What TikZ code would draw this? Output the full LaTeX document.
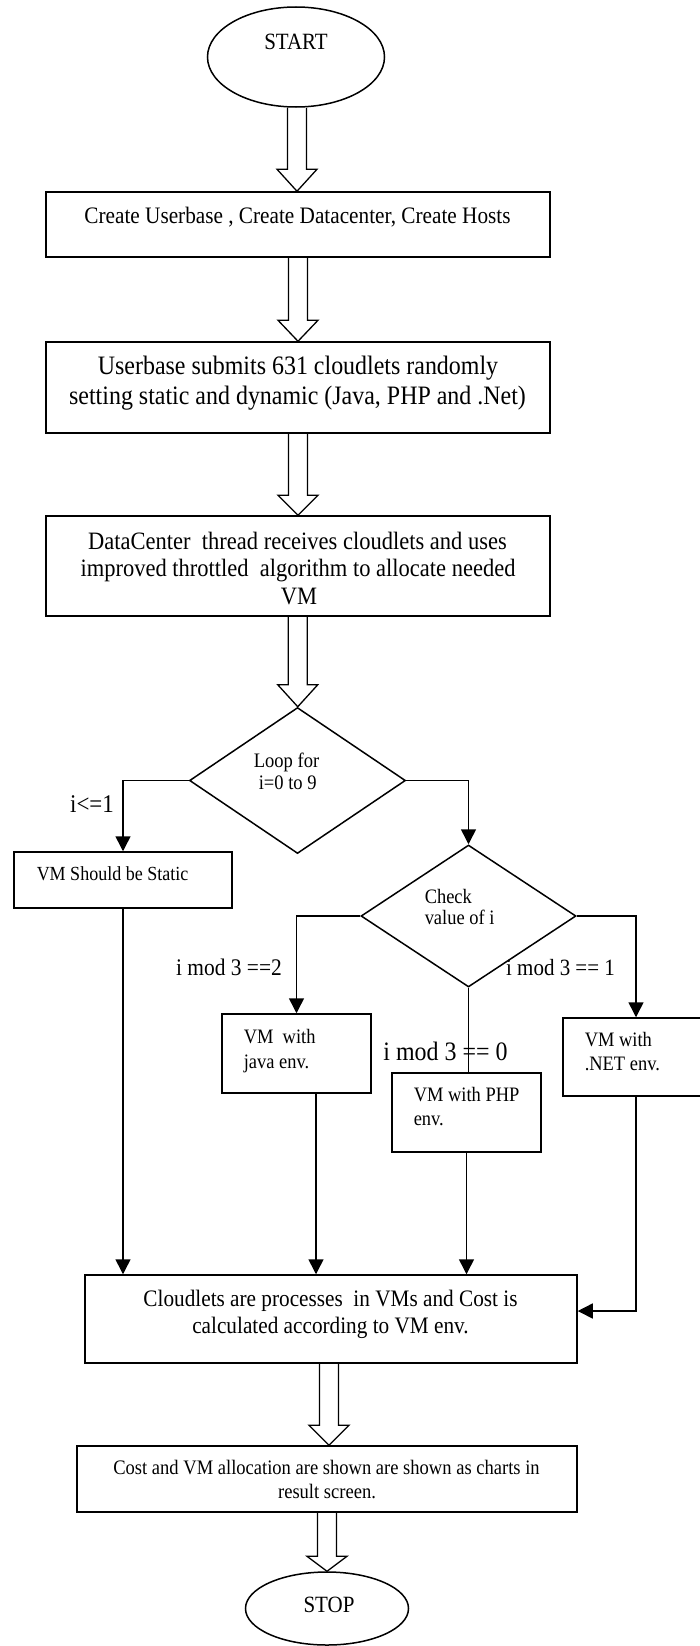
\documentclass[tikz,border=0pt]{standalone}
\usepackage{fontspec}
\setmainfont{Liberation Serif}[FakeStretch=0.9]
\usetikzlibrary{shapes.geometric,arrows.meta,calc}
\begin{document}
\begin{tikzpicture}[x=1pt,y=-1pt,line width=1.5pt,
  box/.style={draw,rectangle,inner sep=0pt,line width=1.5pt},
  oval/.style={draw,ellipse,inner sep=0pt,line width=1.5pt},
  dia/.style={draw,diamond,inner sep=0pt,line width=1.5pt},
  conn/.style={line width=1.5pt,-{Triangle[length=15pt,width=15pt]}},
  plain/.style={line width=1.5pt},
  hollow/.style={line width=1.3pt,line join=miter},
  tx/.style={inner sep=0pt,anchor=base},
  txl/.style={inner sep=0pt,anchor=base west},
  fs/.style={font=\fontsize{#1}{#1}\selectfont}]
\useasboundingbox (0,0) rectangle (700,1646);
\clip (0,0) rectangle (700,1646);
\fill[white] (0,0) rectangle (700,1646);

\newcommand\harrow[3]{%
  \draw[hollow] let \p1=(#1.south), \p2=(#2.north), \p3=($(\p1)!0.5!(\p2)$) in
    (\x3-9.5pt,\y1) -- (\x3-9.5pt,\y2+#3pt) -- (\x3-20pt,\y2+#3pt) -- (\x3,\y2)
    -- (\x3+20pt,\y2+#3pt) -- (\x3+9.5pt,\y2+#3pt) -- (\x3+9.5pt,\y1);}

% shapes
\node[oval,minimum width=177pt,minimum height=100pt] (start) at (296,57) {};
\node[box,minimum width=504pt,minimum height=65pt] (b1) at (298,224.5) {};
\node[box,minimum width=504pt,minimum height=91pt] (b2) at (298,387.5) {};
\node[box,minimum width=504pt,minimum height=100pt] (b3) at (298,566) {};
\node[dia,minimum width=216pt,minimum height=146pt] (d1) at (297.5,780.5) {};
\node[box,minimum width=218pt,minimum height=56pt] (static) at (123,880) {};
\node[dia,minimum width=215pt,minimum height=142pt] (d2) at (468.5,916) {};
\node[box,minimum width=149pt,minimum height=79pt] (java) at (296.5,1053.5) {};
\node[box,minimum width=149pt,minimum height=79pt] (php) at (466.5,1112.5) {};
\node[box,minimum width=146pt,minimum height=78pt] (net) at (636,1057) {};
\node[box,minimum width=492pt,minimum height=88pt] (cloud) at (331,1319) {};
\node[box,minimum width=500pt,minimum height=66pt] (res) at (327,1479) {};
\node[oval,minimum width=163pt,minimum height=73pt] (stop) at (327,1608.5) {};

% texts
\node[tx,fs=23.3] (tstart) at (296,50) {START};
\node[tx,fs=23.6] (tb1) at (297.5,223) {Create Userbase , Create Datacenter, Create Hosts};
\node[tx,fs=26.6] (tb2a) at (298,374) {Userbase submits 631 cloudlets randomly};
\node[tx,fs=26.6] (tb2b) at (297.5,404) {setting static and dynamic (Java, PHP and .Net)};
\node[tx,fs=25] (tb3a) at (297.5,549) {DataCenter\ \ thread receives cloudlets and uses};
\node[tx,fs=25] (tb3b) at (298,576) {improved throttled\ \ algorithm to allocate needed};
\node[tx,fs=25] (tb3c) at (299,604) {VM};
\node[tx,fs=20.6] (td1a) at (286.5,767) {Loop for};
\node[tx,fs=20.6] (td1b) at (287.7,789) {i=0 to 9};
\node[tx,fs=25.5] (lle) at (92,812) {i<=1};
\node[txl,fs=20] (tst) at (36,880) {VM Should be Static};
\node[txl,fs=20.5] (td2a) at (424,903) {Check};
\node[txl,fs=20.5] (td2b) at (424,924) {value of i};
\node[tx,fs=23.8] (l2) at (229,975) {i mod 3 ==2};
\node[tx,fs=23.3] (l1) at (560.5,975) {i mod 3 == 1};
\node[tx,fs=26.6] (l0) at (445.5,1060) {i mod 3 == 0};
\node[txl,fs=20.5] (tja) at (243,1043) {VM\ \ with};
\node[txl,fs=20.5] (tjb) at (243,1068) {java env.};
\node[txl,fs=20.5] (tpa) at (413,1101) {VM with PHP};
\node[txl,fs=20.5] (tpb) at (413,1125) {env.};
\node[txl,fs=20.5] (tna) at (584,1046) {VM with};
\node[txl,fs=20.5] (tnb) at (584,1070) {.NET env.};
\node[tx,fs=23.6] (tca) at (330.5,1306) {Cloudlets are processes\ \ in VMs and Cost is};
\node[tx,fs=23.6] (tcb) at (330.5,1333) {calculated according to VM env.};
\node[tx,fs=20.6] (tra) at (326.5,1474) {Cost and VM allocation are shown are shown as charts in};
\node[tx,fs=20.6] (trb) at (327,1498) {result screen.};
\node[tx,fs=23.3] (tstop) at (329,1612) {STOP};

% hollow arrows
\harrow{start}{b1}{22}
\harrow{b1}{b2}{21}
\harrow{b2}{b3}{20}
\harrow{b3}{d1}{22}
\harrow{cloud}{res}{20}
\harrow{res}{stop}{15}

% connectors
\draw[conn] (d1.west) -| (static.north);
\draw[conn] (d1.east) -| (d2.north);
\draw[conn] (d2.west) -| (java.north);
\draw[conn] (d2.east) -| (net.north);
\draw[plain] (d2.south) -- (d2.south |- php.north);
\draw[conn] (static.south) -- (static.south |- cloud.north);
\coordinate (jv) at ([xshift=19.5pt]java.south);
\draw[conn] (jv) -- (jv |- cloud.north);
\draw[conn] (php.south) -- (php.south |- cloud.north);
\draw[conn] (net.south) |- ([yshift=8pt]cloud.east);
\end{tikzpicture}
\end{document}
